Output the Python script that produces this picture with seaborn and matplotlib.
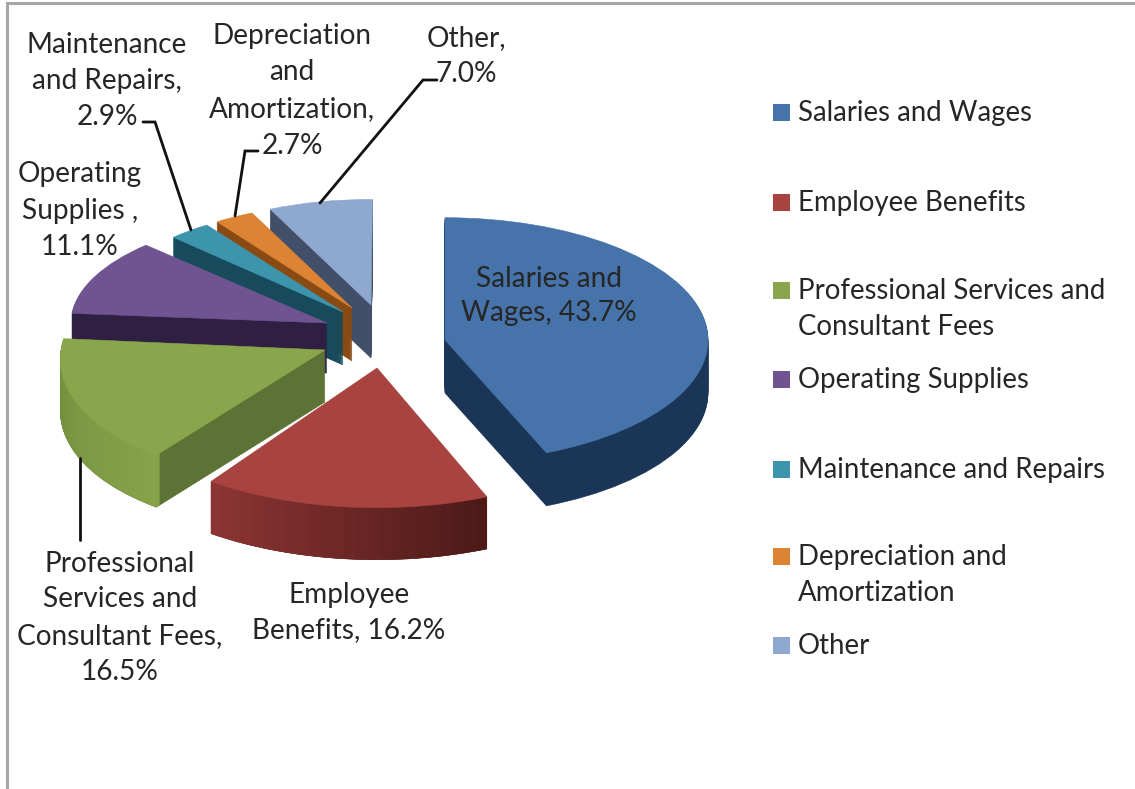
import numpy as np
import matplotlib
matplotlib.use("Agg")
import matplotlib.pyplot as plt
from matplotlib.colors import to_rgb
from matplotlib.patches import Rectangle
from matplotlib.transforms import Affine2D
import seaborn as sns

categories = ["Salaries and Wages", "Employee Benefits", "Professional Services and Consultant Fees",
              "Operating Supplies", "Maintenance and Repairs", "Depreciation and Amortization", "Other"]
values = [43.7, 16.2, 16.5, 11.1, 2.9, 2.7, 7.0]
top_colors = ["#4673a9", "#a84340", "#8aa64c", "#6f5491", "#3c95ad", "#dc8433", "#8fa8d0"]
cut_colors = ["#1b3557", "#5a1d1b", "#5d7336", "#2f1f42", "#174a5a", "#8a4a14", "#414f68"]
rim_colors = [("#1b3557", "#1b3557"), ("#4d1a18", "#8c3533"), ("#86a34a", "#6f8c3c"),
              ("#2f1f42", "#2f1f42"), ("#174a5a", "#174a5a"), ("#8a4a14", "#8a4a14"), ("#414f68", "#414f68")]
# wedge geometry in reference pixels: apex x, apex y, x radius, y/x squash, wall depth, perspective shear
geometry = [(445, 340, 263, 0.465, 53, 0.0), (377, 368, 285, 0.49, 52, 0.0), (325, 350, 264, 0.49, 52, 0.14),
            (327, 323, 256, 0.43, 50, 0.0), (343, 312, 240, 0.44, 53, 0.0), (352, 308, 238, 0.44, 53, 0.0),
            (371, 305, 240, 0.44, 53, 0.0)]
draw_order = [6, 5, 4, 3, 2, 1, 0]

W, H = 1135, 789
sns.set_theme(style="white")
plt.rcParams["font.family"] = ["Lato", "DejaVu Sans"]
TXT = "#262626"
FS_LABEL = 20.2
FS_LEGEND = 19.9

fig = plt.figure(figsize=(W / 100, H / 100), dpi=100, facecolor="white")
starts = 90 - np.concatenate([[0], np.cumsum(values)[:-1]]) * 3.6


def layer(ax, v, start, cx, py, rx, k, colors, shear=0.0, n=1, width=None):
    wp = dict(linewidth=0.4)
    if width:
        wp["width"] = width
    parts = [v / n] * n + [100 - v]
    yc = (H - py) / k
    wedges, _ = ax.pie(parts, colors=list(colors) + ["white"], startangle=start, counterclock=False,
                       center=(cx, yc), radius=rx, wedgeprops=wp, normalize=True)
    s = shear * k
    warp = Affine2D(np.array([[1, s, -s * yc], [0, 1, 0], [0, 0, 1]], dtype=float))
    for w, c in zip(wedges[:n], colors):
        w.set_edgecolor(c)
        w.set_transform(warp + ax.transData)
    wedges[-1].set_visible(False)


for i in draw_order:
    cx, cy, rx, k, depth, shear = geometry[i]
    ax = fig.add_axes([0, 0, 1, 1])
    ax.patch.set_alpha(0)
    for d in range(depth, 0, -1):
        layer(ax, values[i], starts[i], cx, cy + d, rx, k, [cut_colors[i]], shear)
    a, b = rim_colors[i]
    if a != b:
        n = 24
        shades = [tuple(np.array(to_rgb(a)) * (1 - t) + np.array(to_rgb(b)) * t) for t in np.linspace(0, 1, n)]
        for d in range(depth, 0, -1):
            layer(ax, values[i], starts[i], cx, cy + d, rx, k, shades, shear, n=n, width=5)
    layer(ax, values[i], starts[i], cx, cy, rx, k, [top_colors[i]], shear)
    ax.set_aspect("auto")
    ax.set_xlim(0, W)
    ax.set_ylim(0, H / k)
    ax.axis("off")

ov = fig.add_axes([0, 0, 1, 1])
ov.patch.set_alpha(0)
ov.set_xlim(0, W)
ov.set_ylim(H, 0)
ov.axis("off")

# chart frame
ov.plot([7, 7, W], [H, 3, 3], color="#a6a6a6", lw=2.2, solid_joinstyle="miter")

# leader lines
for xs, ys in [([143, 155, 191], [122, 122, 230]), ([258, 245, 235], [151, 151, 216]),
               ([437, 423, 320], [80, 80, 203]), ([80, 80], [458, 540])]:
    ov.plot(xs, ys, color="#111111", lw=2.0, solid_joinstyle="miter")

labels = [("Maintenance\nand Repairs,\n2.9%", [(107, 45), (107, 81), (107, 117)]),
          ("Depreciation\nand\nAmortization,\n2.7%", [(292, 36), (292, 72), (292, 109), (292, 146)]),
          ("Other,\n7.0%", [(466, 38), (466, 74)]),
          ("Operating\nSupplies ,\n11.1%", [(80, 174), (80, 211), (80, 247)]),
          ("Salaries and\nWages, 43.7%", [(549, 279), (549, 313)]),
          ("Employee\nBenefits, 16.2%", [(349, 595), (349, 630)]),
          ("Professional\nServices and\nConsultant Fees,\n16.5%", [(120, 564), (120, 599), (120, 636), (120, 672)])]
for text, spots in labels:
    for line, (x, y) in zip(text.split("\n"), spots):
        ov.text(x, y, line, ha="center", va="center", fontsize=FS_LABEL, color=TXT)

legend_y = [113, 203, 291, 380, 470, 557, 646]
legend_lines = [["Salaries and Wages"], ["Employee Benefits"], ["Professional Services and", "Consultant Fees"],
                ["Operating Supplies"], ["Maintenance and Repairs"], ["Depreciation and", "Amortization"], ["Other"]]
for y, lines, c in zip(legend_y, legend_lines, top_colors):
    ov.add_patch(Rectangle((773, y - 9), 17, 17, facecolor=c, edgecolor="none"))
    for j, line in enumerate(lines):
        ov.text(798, y + 36 * j, line, ha="left", va="center", fontsize=FS_LEGEND, color=TXT)

fig.savefig("out.png", dpi=100, facecolor="white")
